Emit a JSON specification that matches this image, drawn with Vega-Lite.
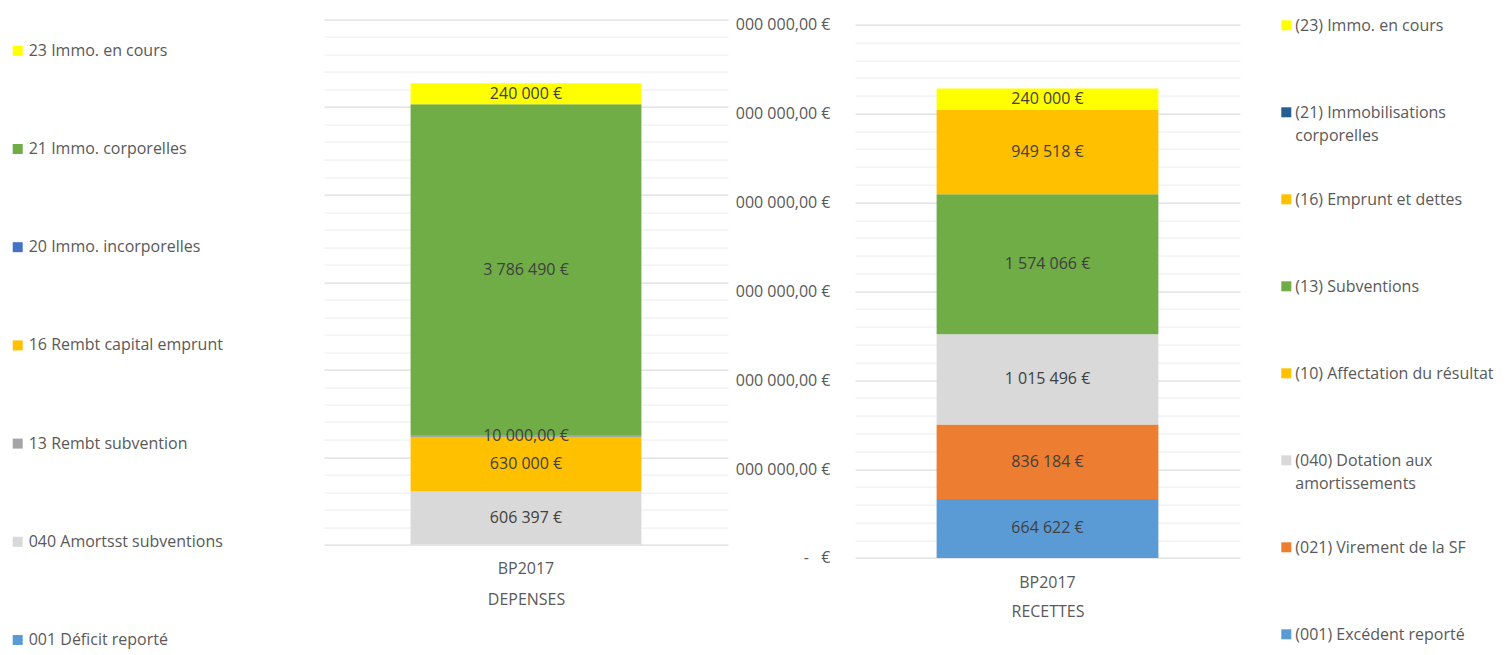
{
  "$schema": "https://vega.github.io/schema/vega-lite/v6.json",
  "padding": {"left": 9, "top": 7.6, "right": 0, "bottom": 0},
  "autosize": {"type": "pad"},
  "spacing": 7,
  "bounds": "full",
  "config": {
    "font": "Open Sans",
    "view": {"stroke": null},
    "locale": {"number": {"decimal": ",", "thousands": " ", "grouping": [3], "currency": ["", " €"]}},
    "style": {"guide-label": {"lineHeight": 23}},
    "axis": {"labelFont": "Open Sans", "labelFontSize": 16, "labelColor": "#595959", "titleFont": "Open Sans", "titleFontSize": 16, "titleColor": "#595959", "titleFontWeight": "normal"}
  },
  "datasets": {
    "depenses": [
      {"periode": "BP2017", "ordre": 1, "poste": "001 Déficit reporté", "montant": 0, "label": ""},
      {"periode": "BP2017", "ordre": 2, "poste": "040 Amortsst subventions", "montant": 606397, "label": "606 397 €"},
      {"periode": "BP2017", "ordre": 3, "poste": "13 Rembt subvention", "montant": 0, "label": ""},
      {"periode": "BP2017", "ordre": 4, "poste": "16 Rembt capital emprunt", "montant": 630000, "label": "630 000 €"},
      {"periode": "BP2017", "ordre": 5, "poste": "20 Immo. incorporelles", "montant": 10000, "label": "10 000,00 €"},
      {"periode": "BP2017", "ordre": 6, "poste": "21 Immo. corporelles", "montant": 3786490, "label": "3 786 490 €"},
      {"periode": "BP2017", "ordre": 7, "poste": "23 Immo. en cours", "montant": 240000, "label": "240 000 €"}
    ],
    "recettes": [
      {"periode": "BP2017", "ordre": 1, "poste": "(001) Excédent reporté", "montant": 664622, "label": "664 622 €"},
      {"periode": "BP2017", "ordre": 2, "poste": "(021) Virement de la SF", "montant": 836184, "label": "836 184 €"},
      {"periode": "BP2017", "ordre": 3, "poste": "(040) Dotation aux amortissements", "montant": 1015496, "label": "1 015 496 €"},
      {"periode": "BP2017", "ordre": 4, "poste": "(10) Affectation du résultat", "montant": 0, "label": ""},
      {"periode": "BP2017", "ordre": 5, "poste": "(13) Subventions", "montant": 1574066, "label": "1 574 066 €"},
      {"periode": "BP2017", "ordre": 6, "poste": "(16) Emprunt et dettes", "montant": 949518, "label": "949 518 €"},
      {"periode": "BP2017", "ordre": 7, "poste": "(21) Immobilisations corporelles", "montant": 0, "label": ""},
      {"periode": "BP2017", "ordre": 8, "poste": "(23) Immo. en cours", "montant": 240000, "label": "240 000 €"}
    ]
  },
  "resolve": {"scale": {"color": "independent", "x": "independent", "y": "independent"}, "legend": {"color": "independent"}},
  "hconcat": [
    {
      "width": 404,
      "height": 525,
      "data": {"name": "depenses"},
      "transform": [
        {"stack": "montant", "groupby": ["periode"], "sort": [{"field": "ordre", "order": "ascending"}], "as": ["v0", "v1"]}
      ],
      "layer": [
        {
          "mark": {"type": "bar"},
          "encoding": {
            "x": {"field": "periode", "type": "nominal", "scale": {"paddingInner": 0, "paddingOuter": 0.375},
                  "axis": {"title": "DEPENSES", "labelAngle": 0, "domain": false, "ticks": false, "labelPadding": 15.5, "titlePadding": 15}},
            "y": {"field": "v0", "type": "quantitative", "scale": {"domain": [0, 6000000], "nice": false},
                  "axis": {"title": null, "labels": false, "domain": false, "ticks": false, "tickSize": 0, "tickCount": 40,
                           "values": [0,200000,400000,600000,800000,1000000,1200000,1400000,1600000,1800000,2000000,2200000,2400000,2600000,2800000,3000000,3200000,3400000,3600000,3800000,4000000,4200000,4400000,4600000,4800000,5000000,5200000,5400000,5600000,5800000,6000000],
                           "gridColor": {"condition": {"test": "datum.value % 1000000 === 0", "value": "#d4d4d4"}, "value": "#ececec"}}},
            "y2": {"field": "v1"},
            "color": {"field": "poste", "type": "nominal",
                      "scale": {"domain": ["23 Immo. en cours", "21 Immo. corporelles", "20 Immo. incorporelles", "16 Rembt capital emprunt", "13 Rembt subvention", "040 Amortsst subventions", "001 Déficit reporté"],
                                "range": ["#FFFF00", "#70AD47", "#4472C4", "#FFC000", "#A5A5A5", "#D9D9D9", "#5B9BD5"]},
                      "legend": {"orient": "none", "direction": "vertical", "legendX": -314.3, "legendY": 23.2, "title": null, "padding": 0,
                                 "symbolType": "square", "symbolSize": 100, "symbolStrokeWidth": 0, "symbolOpacity": 1,
                                 "labelFont": "Open Sans", "labelFontSize": 16, "labelColor": "#595959", "labelBaseline": "middle",
                                 "labelOffset": 3, "rowPadding": 82.2, "labelLimit": 400}}
          }
        },
        {
          "transform": [
            {"filter": "datum.montant > 0"},
            {"fold": ["v0", "v1"], "as": ["bord", "pos"]},
            {"aggregate": [{"op": "mean", "field": "pos", "as": "milieu"}], "groupby": ["periode", "poste", "label"]}
          ],
          "mark": {"type": "text", "font": "Open Sans", "fontSize": 16, "color": "#404040"},
          "encoding": {
            "x": {"field": "periode", "type": "nominal"},
            "y": {"field": "milieu", "type": "quantitative"},
            "text": {"field": "label"}
          }
        }
      ]
    },
    {
      "width": 385,
      "height": 538.4,
      "data": {"name": "recettes"},
      "transform": [
        {"stack": "montant", "groupby": ["periode"], "sort": [{"field": "ordre", "order": "ascending"}], "as": ["v0", "v1"]}
      ],
      "layer": [
        {
          "mark": {"type": "bar"},
          "encoding": {
            "x": {"field": "periode", "type": "nominal", "scale": {"paddingInner": 0, "paddingOuter": 0.368},
                  "axis": {"title": "RECETTES", "labelAngle": 0, "domain": false, "ticks": false, "labelPadding": 17, "titlePadding": 13}},
            "y": {"field": "v0", "type": "quantitative", "scale": {"domain": [0, 6000000], "nice": false, "range": [538.4, 5]},
                  "axis": {"title": null, "domain": false, "ticks": false, "tickSize": 0, "tickCount": 40, "labelPadding": 25, "labelOverlap": false,
                           "values": [0,200000,400000,600000,800000,1000000,1200000,1400000,1600000,1800000,2000000,2200000,2400000,2600000,2800000,3000000,3200000,3400000,3600000,3800000,4000000,4200000,4400000,4600000,4800000,5000000,5200000,5400000,5600000,5800000,6000000],
                           "labelExpr": "datum.value === 0 ? '-\u00a0\u00a0\u00a0€' : (datum.value % 1000000 === 0 ? slice(format(datum.value, ',.2f'), 2) + ' €' : '')",
                           "gridColor": {"condition": {"test": "datum.value % 1000000 === 0", "value": "#d4d4d4"}, "value": "#ececec"}}},
            "y2": {"field": "v1"},
            "color": {"field": "poste", "type": "nominal",
                      "scale": {"domain": ["(23) Immo. en cours", "(21) Immobilisations corporelles", "(16) Emprunt et dettes", "(13) Subventions", "(10) Affectation du résultat", "(040) Dotation aux amortissements", "(021) Virement de la SF", "(001) Excédent reporté"],
                                "range": ["#FFFF00", "#255E91", "#FFC000", "#70AD47", "#FFC000", "#D9D9D9", "#ED7D31", "#5B9BD5"]},
                      "legend": {"orient": "none", "direction": "vertical", "legendX": 421.3, "legendY": -11.7, "title": null, "padding": 0,
                                 "symbolType": "M-0.5,0.24H0.5V1.24H-0.5Z", "symbolSize": 400, "symbolStrokeWidth": 0, "symbolOpacity": 1,
                                 "labelFont": "Open Sans", "labelFontSize": 16, "labelColor": "#595959", "labelBaseline": "top",
                                 "labelOffset": -1, "rowPadding": 38, "labelLimit": 400, "gridAlign": "all",
                                 "labelExpr": "datum.label == '(21) Immobilisations corporelles' ? ['(21) Immobilisations', 'corporelles'] : (datum.label == '(040) Dotation aux amortissements' ? ['(040) Dotation aux', 'amortissements'] : [datum.label, ''])"}}
          }
        },
        {
          "transform": [
            {"filter": "datum.montant > 0"},
            {"fold": ["v0", "v1"], "as": ["bord", "pos"]},
            {"aggregate": [{"op": "mean", "field": "pos", "as": "milieu"}], "groupby": ["periode", "poste", "label"]}
          ],
          "mark": {"type": "text", "font": "Open Sans", "fontSize": 16, "color": "#404040"},
          "encoding": {
            "x": {"field": "periode", "type": "nominal"},
            "y": {"field": "milieu", "type": "quantitative"},
            "text": {"field": "label"}
          }
        }
      ]
    }
  ]
}
